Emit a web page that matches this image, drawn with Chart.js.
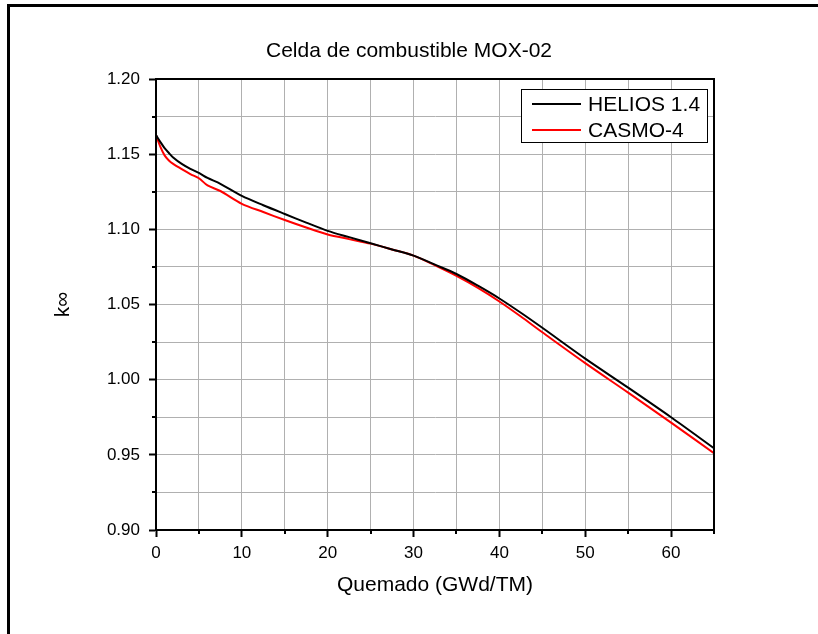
<!DOCTYPE html>
<html><head><meta charset="utf-8">
<script src="https://cdn.jsdelivr.net/npm/chart.js@4/dist/chart.umd.min.js"></script>
<style>html,body{margin:0;padding:0;background:#fff}</style>
</head><body>
<canvas id="c" width="818" height="634" style="width:818px;height:634px;display:block"></canvas>
<script>
// ---- data ----
const burnup = [0, 0.5, 1, 1.5, 2, 3, 4, 5, 6, 7.5, 10, 12.5, 15, 17.5, 20, 22.5, 25, 27.5, 30, 32.5, 35, 37.5, 40, 42.5, 45, 50, 55, 60, 65];
const helios = [1.1627, 1.1582, 1.1540, 1.1508, 1.1478, 1.1435, 1.1402, 1.1375, 1.1342, 1.1303, 1.1222, 1.1160, 1.1102, 1.1045, 1.0990, 1.0948, 1.0907, 1.0866, 1.0825, 1.0765, 1.0703, 1.0625, 1.0540, 1.0445, 1.0345, 1.0140, 0.9947, 0.9750, 0.9544];
const casmo  = [1.1627, 1.1550, 1.1492, 1.1458, 1.1435, 1.1400, 1.1368, 1.1340, 1.1292, 1.1255, 1.1170, 1.1115, 1.1062, 1.1012, 1.0966, 1.0935, 1.0905, 1.0866, 1.0825, 1.0760, 1.0690, 1.0610, 1.0520, 1.0420, 1.0315, 1.0110, 0.9914, 0.9714, 0.9511];
const seriesNames = ['HELIOS 1.4', 'CASMO-4'];
const xTickLabels = ['0', '10', '20', '30', '40', '50', '60'];
const yTickLabels = ['0.90', '0.95', '1.00', '1.05', '1.10', '1.15', '1.20'];
const chartTitle = 'Celda de combustible MOX-02';
const xTitle = 'Quemado (GWd/TM)';
const yTitle = 'k\u221E';

const FONT = "'Liberation Sans', Arial, sans-serif";

const framePlugin = {
  id: 'frame',
  beforeDraw(chart) {
    const ctx = chart.ctx;
    ctx.save();
    ctx.fillStyle = '#fff';
    ctx.fillRect(0, 0, chart.width, chart.height);
    ctx.fillStyle = '#000';
    ctx.fillRect(7, 4, chart.width - 7, 3);
    ctx.fillRect(7, 4, 3, chart.height - 4);
    ctx.restore();
  },
  afterDraw(chart) {
    const ctx = chart.ctx;
    const a = chart.chartArea;
    const xs = chart.scales.x, ys = chart.scales.y;
    ctx.save();
    // chart title, centred on the whole figure
    ctx.fillStyle = '#000';
    ctx.font = '21px ' + FONT;
    ctx.textAlign = 'center';
    ctx.textBaseline = 'middle';
    ctx.fillText(chartTitle, chart.width / 2, 51.5);
    // plot frame
    ctx.strokeStyle = '#000';
    ctx.lineWidth = 2;
    ctx.strokeRect(a.left, a.top, a.right - a.left, a.bottom - a.top);
    // minor ticks
    xs.ticks.forEach((t, i) => {
      if (i % 2) {
        const px = Math.round(xs.getPixelForValue(t.value));
        ctx.beginPath(); ctx.moveTo(px, a.bottom); ctx.lineTo(px, a.bottom + 4); ctx.stroke();
      }
    });
    ys.ticks.forEach((t, i) => {
      if (i % 2) {
        const py = Math.round(ys.getPixelForValue(t.value));
        ctx.beginPath(); ctx.moveTo(a.left, py); ctx.lineTo(a.left - 4, py); ctx.stroke();
      }
    });
    // legend box
    const w = 186, h = 53;
    const lx = a.right - 7 - w, ly = a.top + 10;
    ctx.fillStyle = '#fff';
    ctx.fillRect(lx, ly, w, h);
    ctx.lineWidth = 1;
    ctx.strokeStyle = '#000';
    ctx.strokeRect(lx + 0.5, ly + 0.5, w, h);
    ctx.font = '21px ' + FONT;
    ctx.textBaseline = 'middle';
    ctx.textAlign = 'left';
    chart.data.datasets.forEach((ds, i) => {
      const yy = ly + 15 + i * 26;
      ctx.strokeStyle = ds.borderColor;
      ctx.lineWidth = 2;
      ctx.beginPath(); ctx.moveTo(lx + 11, yy); ctx.lineTo(lx + 60, yy); ctx.stroke();
      ctx.fillStyle = '#000';
      ctx.fillText(ds.label, lx + 67, yy + 1);
    });
    ctx.restore();
  }
};

new Chart(document.getElementById('c'), {
  type: 'line',
  data: {
    datasets: [
      { label: seriesNames[0], data: burnup.map((b, i) => ({ x: b, y: helios[i] })), borderColor: '#000000', borderWidth: 2, pointRadius: 0, tension: 0.3, fill: false },
      { label: seriesNames[1], data: burnup.map((b, i) => ({ x: b, y: casmo[i] })), borderColor: '#ff0000', borderWidth: 2, pointRadius: 0, tension: 0.3, fill: false }
    ]
  },
  options: {
    responsive: false,
    animation: false,
    devicePixelRatio: 1,
    layout: { padding: { left: 0, right: 104, top: 79, bottom: 0 } },
    plugins: {
      legend: { display: false },
      tooltip: { enabled: false },
      title: { display: false }
    },
    scales: {
      x: {
        type: 'linear', min: 0, max: 65,
        afterFit(s) { s.height = 104; },
        border: { color: '#000', width: 2 },
        grid: {
          color: '#b0b0b0', lineWidth: 1, tickLength: 7, tickWidth: 2,
          tickColor: (c) => (c.index % 2 === 0 ? '#000' : 'rgba(0,0,0,0)')
        },
        ticks: {
          stepSize: 5, autoSkip: false, maxRotation: 0, padding: 6, color: '#000',
          font: { family: FONT, size: 17 },
          callback: (v, i) => (i % 2 === 0 ? (xTickLabels[i / 2] ?? '') : '')
        },
        title: {
          display: true, text: xTitle, color: '#000',
          font: { family: FONT, size: 21, lineHeight: 1.2 },
          padding: { top: 0, bottom: 36.4 }
        }
      },
      y: {
        type: 'linear', min: 0.9, max: 1.2,
        afterFit(s) { s.width = 156; },
        border: { color: '#000', width: 2 },
        grid: {
          color: '#b0b0b0', lineWidth: 1, tickLength: 7, tickWidth: 2,
          tickColor: (c) => (c.index % 2 === 0 ? '#000' : 'rgba(0,0,0,0)')
        },
        ticks: {
          stepSize: 0.025, autoSkip: false, padding: 9, color: '#000',
          font: { family: FONT, size: 17 },
          callback: (v, i) => (i % 2 === 0 ? (yTickLabels[i / 2] ?? '') : '')
        },
        title: {
          display: true, text: yTitle, color: '#000',
          font: { family: FONT, size: 21, lineHeight: 1.2 },
          padding: { top: 50.4, bottom: 0 }
        }
      }
    }
  },
  plugins: [framePlugin]
});
</script>
</body></html>
